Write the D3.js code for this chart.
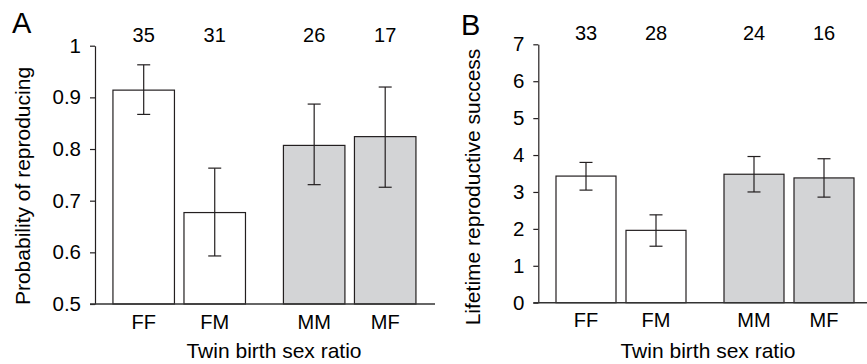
<!DOCTYPE html>
<html>
<head>
<meta charset="utf-8">
<script src="https://cdn.jsdelivr.net/npm/d3@7"></script>
<style>
  body { margin: 0; background: #fff; }
  svg { display: block; font-family: "Liberation Sans", Arial, Helvetica, sans-serif; }
</style>
</head>
<body>
<svg id="chart" width="867" height="364"></svg>
<script>
// categories shared by both panels
const categories = ['FF', 'FM', 'MM', 'MF'];
const barFills = ['#ffffff', '#ffffff', '#d3d4d6', '#d3d4d6'];

// panel A - probability of reproducing
const probValues = [0.914, 0.677, 0.807, 0.824];
const probLow = [0.867, 0.593, 0.731, 0.726];
const probHigh = [0.963, 0.763, 0.887, 0.920];
const probN = [35, 31, 26, 17];
const probTicks = [0.5, 0.6, 0.7, 0.8, 0.9, 1];

// panel B - lifetime reproductive success
const lrsValues = [3.43, 1.96, 3.48, 3.38];
const lrsLow = [3.05, 1.53, 3.0, 2.86];
const lrsHigh = [3.80, 2.38, 3.96, 3.90];
const lrsN = [33, 28, 24, 16];
const lrsTicks = [0, 1, 2, 3, 4, 5, 6, 7];

// bar slots, MM/MF sit a bit apart from FF/FM
const slots = [0, 1, 2.4, 3.4];

const svg = d3.select('#chart');
const ink = '#231f20';

function drawPanel(p) {
  const g = svg.append('g').attr('class', 'panel');

  const y = d3.scaleLinear().domain(p.domain).range([p.bottom, p.top]);
  const x = d3.scaleLinear().domain([0, 3.4]).range(p.xRange);

  const data = categories.map((c, i) => ({
    cat: c, v: p.values[i], lo: p.low[i], hi: p.high[i], n: p.n[i], fill: barFills[i], slot: slots[i]
  }));

  // y axis
  const ax = g.append('g')
    .attr('transform', 'translate(' + p.axisX + ',0)')
    .call(d3.axisLeft(y).tickValues(p.ticks).tickFormat(d3.format('')).tickSize(5).tickSizeOuter(0).tickPadding(9));
  ax.select('.domain').attr('stroke', ink).attr('stroke-width', 1.2);
  ax.selectAll('.tick line').attr('stroke', ink).attr('stroke-width', 1.2);
  ax.selectAll('.tick text')
    .attr('fill', '#000')
    .style('font-size', '20.5px')
    .style('font-family', '"Liberation Sans", Arial, sans-serif');

  // bars
  g.selectAll('.bar')
    .data(data)
    .enter()
    .append('rect')
    .attr('class', 'bar')
    .attr('x', d => x(d.slot) - p.barW / 2)
    .attr('y', d => y(d.v))
    .attr('width', p.barW)
    .attr('height', d => y(p.domain[0]) - y(d.v))
    .attr('fill', d => d.fill)
    .attr('stroke', ink)
    .attr('stroke-width', 1.2);

  // bottom line
  g.append('line')
    .attr('x1', p.axisX - 5)
    .attr('x2', p.lineEnd)
    .attr('y1', y(p.domain[0]))
    .attr('y2', y(p.domain[0]))
    .attr('stroke', '#333')
    .attr('stroke-width', 1.4);

  // error bars
  const err = g.selectAll('.err')
    .data(data)
    .enter()
    .append('g')
    .attr('class', 'err')
    .attr('stroke', ink)
    .attr('stroke-width', 1.2);
  err.append('line')
    .attr('x1', d => x(d.slot)).attr('x2', d => x(d.slot))
    .attr('y1', d => y(d.hi)).attr('y2', d => y(d.lo));
  err.append('line')
    .attr('x1', d => x(d.slot) - 6.5).attr('x2', d => x(d.slot) + 6.5)
    .attr('y1', d => y(d.hi)).attr('y2', d => y(d.hi));
  err.append('line')
    .attr('x1', d => x(d.slot) - 6.5).attr('x2', d => x(d.slot) + 6.5)
    .attr('y1', d => y(d.lo)).attr('y2', d => y(d.lo));

  // sample sizes
  g.selectAll('.nlab')
    .data(data)
    .enter()
    .append('text')
    .attr('class', 'nlab')
    .attr('x', d => x(d.slot))
    .attr('y', p.nY)
    .attr('text-anchor', 'middle')
    .style('font-size', '20px')
    .attr('fill', '#000')
    .text(d => d.n);

  // category labels
  g.selectAll('.clab')
    .data(data)
    .enter()
    .append('text')
    .attr('class', 'clab')
    .attr('x', d => x(d.slot))
    .attr('y', p.catY)
    .attr('text-anchor', 'middle')
    .style('font-size', '20px')
    .attr('fill', '#000')
    .text(d => d.cat);

  // axis titles
  g.append('text')
    .attr('x', p.xTitleX)
    .attr('y', 358)
    .attr('text-anchor', 'middle')
    .style('font-size', '21px')
    .attr('fill', '#000')
    .text('Twin birth sex ratio');

  g.append('text')
    .attr('transform', 'translate(' + p.yTitleX + ',' + p.yTitleY + ') rotate(-90)')
    .attr('text-anchor', 'middle')
    .attr('dy', '0.35em')
    .style('font-size', '21px')
    .attr('fill', '#000')
    .text(p.yTitle);

  // panel letter
  g.append('text')
    .attr('x', p.letterX)
    .attr('y', p.letterY)
    .style('font-size', '29px')
    .attr('fill', '#000')
    .text(p.letter);
}

drawPanel({
  letter: 'A', letterX: 12, letterY: 33,
  domain: [0.5, 1], ticks: probTicks,
  values: probValues, low: probLow, high: probHigh, n: probN,
  top: 45.7, bottom: 304, axisX: 95, lineEnd: 435,
  xRange: [143.7, 385.2], barW: 61.5,
  nY: 42, catY: 329, xTitleX: 274,
  yTitle: 'Probability of reproducing', yTitleX: 23, yTitleY: 186
});

drawPanel({
  letter: 'B', letterX: 461, letterY: 35,
  domain: [0, 7], ticks: lrsTicks,
  values: lrsValues, low: lrsLow, high: lrsHigh, n: lrsN,
  top: 44.3, bottom: 302.7, axisX: 538.3, lineEnd: 867,
  xRange: [586, 824], barW: 60,
  nY: 40, catY: 327, xTitleX: 708,
  yTitle: 'Lifetime reproductive success', yTitleX: 473, yTitleY: 187
});
</script>
</body>
</html>
